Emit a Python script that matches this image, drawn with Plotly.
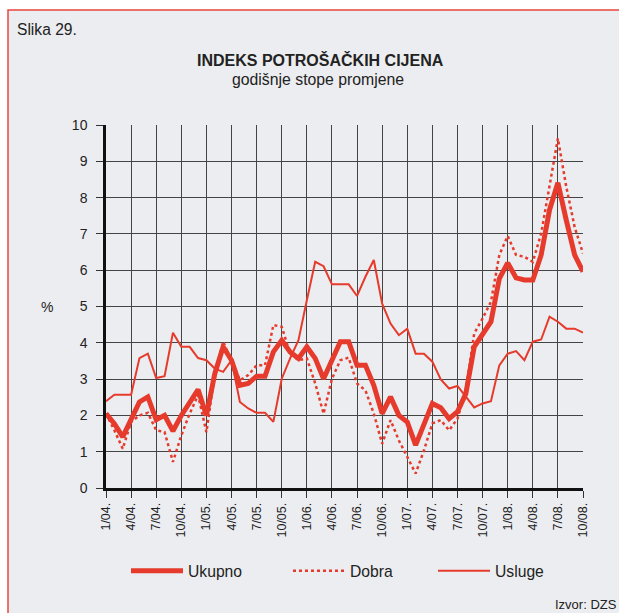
import plotly.graph_objects as go

months = list(range(58))  # 1/04 .. 10/08
tick_idx = list(range(0, 58, 3))
tick_labels = [f"{m}/{y:02d}." for y in range(4, 9) for m in (1, 4, 7, 10)]

ukupno = [2.05, 1.77, 1.41, 1.91, 2.37, 2.51, 1.88, 2.00, 1.57, 2.00,
          2.33, 2.71, 2.00, 3.15, 3.89, 3.52, 2.83, 2.88, 3.08, 3.08,
          3.75, 4.07, 3.75, 3.57, 3.89, 3.57, 3.01, 3.52, 4.03, 4.03,
          3.38, 3.38, 2.83, 2.05, 2.51, 2.00, 1.82, 1.18, 1.77, 2.33,
          2.21, 1.91, 2.10, 2.60, 3.89, 4.21, 4.58, 5.77, 6.20, 5.79,
          5.73, 5.73, 6.42, 7.66, 8.41, 7.38, 6.42, 5.96]

dobra = [2.05, 1.59, 1.08, 1.82, 2.00, 2.07, 1.59, 1.54, 0.72, 1.45,
         2.05, 2.56, 1.54, 3.15, 4.03, 3.52, 2.97, 3.11, 3.38, 3.38,
         4.49, 4.44, 3.70, 3.52, 3.57, 2.88, 2.05, 3.01, 3.52, 3.59,
         2.88, 2.69, 2.05, 1.22, 1.87, 1.31, 0.85, 0.40, 1.04, 1.78,
         1.87, 1.59, 1.91, 2.70, 4.26, 4.67, 5.13, 6.42, 6.94, 6.42,
         6.37, 6.23, 7.01, 8.30, 9.63, 8.30, 7.19, 6.46]

usluge = [2.39, 2.57, 2.57, 2.57, 3.58, 3.70, 3.03, 3.08, 4.28, 3.89,
          3.89, 3.58, 3.52, 3.29, 3.20, 3.52, 2.37, 2.19, 2.07, 2.07,
          1.82, 3.01, 3.57, 4.07, 5.17, 6.23, 6.11, 5.61, 5.61, 5.61,
          5.29, 5.82, 6.28, 5.08, 4.53, 4.21, 4.39, 3.70, 3.70, 3.48,
          2.99, 2.74, 2.81, 2.51, 2.22, 2.33, 2.39, 3.38, 3.70, 3.77,
          3.52, 4.03, 4.09, 4.72, 4.58, 4.39, 4.39, 4.28]

RED = "#E63B2C"
FONT = "Liberation Sans, Arial, sans-serif"
TXT = "#222222"

W, H = 619, 613
L, R, T, B = 106, 36, 125, 125
pw, ph = W - L - R, H - T - B


def px_x(px):
    return (px - L) / pw


def px_y(py):
    return (H - B - py) / ph


fig = go.Figure()
fig.add_trace(go.Scatter(x=months, y=ukupno, mode="lines", name="Ukupno",
                         line=dict(color=RED, width=5), legend="legend"))
fig.add_trace(go.Scatter(x=months, y=dobra, mode="lines", name="Dobra",
                         line=dict(color=RED, width=2.5, dash="dot"), legend="legend2"))
fig.add_trace(go.Scatter(x=months, y=usluge, mode="lines", name="Usluge",
                         line=dict(color=RED, width=2), legend="legend3"))

leg_common = dict(orientation="h", xanchor="left", yanchor="middle",
                  bgcolor="rgba(0,0,0,0)", font=dict(family=FONT, size=15.7, color=TXT),
                  itemwidth=52, xref="paper", yref="paper")

fig.update_layout(
    width=W, height=H,
    margin=dict(l=L, r=R, t=T, b=B, pad=0),
    paper_bgcolor="white",
    plot_bgcolor="#ECEDF0",
    font=dict(family=FONT, size=14, color=TXT),
    showlegend=True,
    legend=dict(x=px_x(126), y=px_y(571), **leg_common),
    legend2=dict(x=px_x(288), y=px_y(571), **leg_common),
    legend3=dict(x=px_x(433), y=px_y(571), **leg_common),
    xaxis=dict(range=[0, 57], tickmode="array", tickvals=tick_idx, ticktext=tick_labels,
               tickangle=-90, ticks="outside", ticklen=7, tickcolor="#333", tickwidth=1.3,
               showgrid=True, gridcolor="#444", gridwidth=1.3,
               showline=True, linecolor="#111", linewidth=2.5,
               zeroline=False, tickfont=dict(family=FONT, size=12.5, color=TXT)),
    yaxis=dict(range=[0, 10], tickmode="array", tickvals=list(range(11)),
               ticks="outside", ticklen=7, tickcolor="#333", tickwidth=1.3,
               ticklabelstandoff=6,
               showgrid=True, gridcolor="#444", gridwidth=1.3,
               showline=True, linecolor="#111", linewidth=2.5,
               zeroline=False, tickfont=dict(family=FONT, size=14, color=TXT)),
    shapes=[dict(type="rect", xref="paper", yref="paper",
                 x0=px_x(8), x1=px_x(640), y0=px_y(640), y1=px_y(10),
                 fillcolor="#ECEDF0", line=dict(color="#E8473E", width=1.5),
                 layer="below")],
    annotations=[
        dict(text="Slika 29.", xref="paper", yref="paper", x=px_x(15), y=px_y(30),
             xanchor="left", yanchor="middle", showarrow=False,
             font=dict(family=FONT, size=15.6, color=TXT)),
        dict(text="<b>INDEKS POTROŠAČKIH CIJENA</b>", xref="paper", yref="paper",
             x=px_x(320), y=px_y(60), xanchor="center", yanchor="middle", showarrow=False,
             font=dict(family=FONT, size=16, color=TXT)),
        dict(text="godišnje stope promjene", xref="paper", yref="paper",
             x=px_x(318), y=px_y(79), xanchor="center", yanchor="middle", showarrow=False,
             font=dict(family=FONT, size=15.8, color=TXT)),
        dict(text="%", xref="paper", yref="paper", x=px_x(46.5), y=px_y(307),
             xanchor="center", yanchor="middle", showarrow=False,
             font=dict(family=FONT, size=14, color=TXT)),
        dict(text="Izvor: DZS", xref="paper", yref="paper", x=px_x(619), y=px_y(604),
             xanchor="right", yanchor="middle", showarrow=False,
             font=dict(family=FONT, size=13, color=TXT)),
    ],
)

fig.write_html(
    "out.html",
    config={"displayModeBar": False},
    post_script="document.body.style.margin='0';document.body.style.overflow='hidden';",
)
